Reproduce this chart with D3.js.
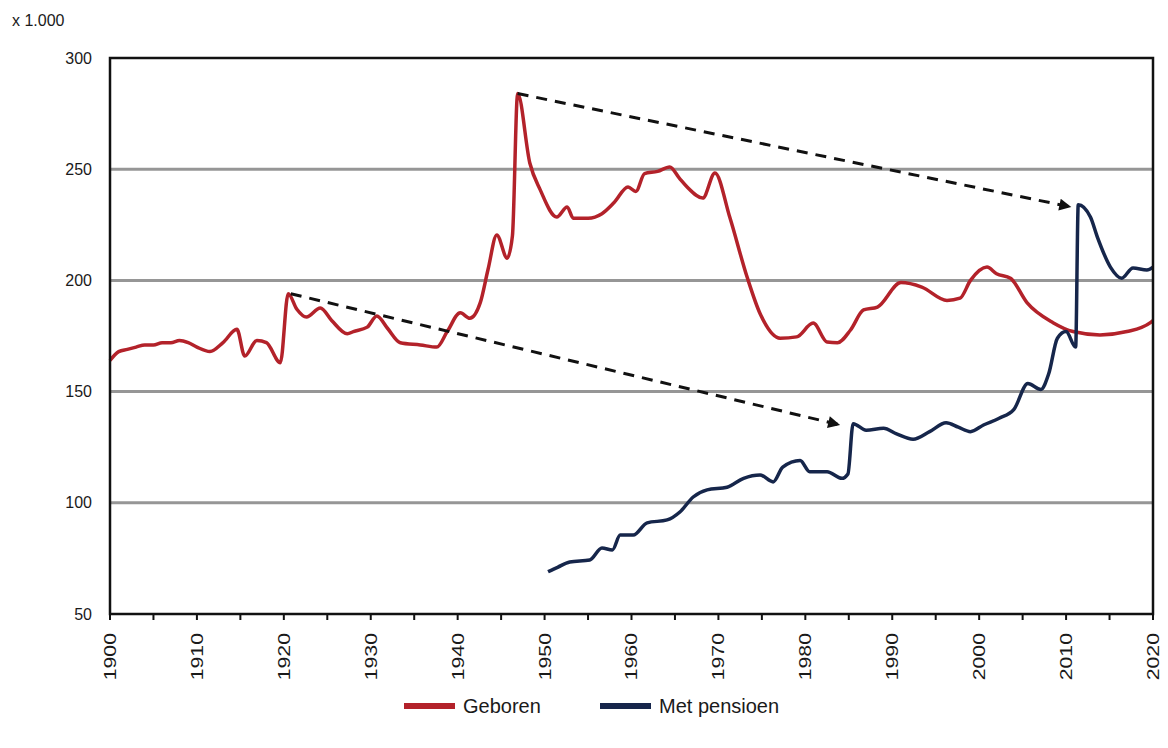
<!DOCTYPE html>
<html>
<head>
<meta charset="utf-8">
<script src="https://d3js.org/d3.v7.min.js"></script>
<style>
body { margin: 0; background: #fff; }
text { font-family: "Liberation Sans", Arial, sans-serif; fill: #1a1a1a; }
</style>
</head>
<body>
<script>

/* data (x 1.000) */

var geborenYears = [1900, 1901, 1902, 1903, 1904, 1905, 1906, 1907, 1908, 1909, 1910, 1911.5, 1913, 1914.6,
  1915.5, 1916.9, 1918, 1919.6, 1920.5, 1921.5, 1922.6, 1924.2, 1925.5, 1927.3, 1928, 1929.6, 1930.7,
  1931.9, 1933.4, 1935.7, 1937.6, 1938.8, 1940.3, 1941.4, 1942.6, 1943.5, 1944.5, 1945.7, 1946.3, 1946.9,
  1948.3, 1949.5, 1951.4, 1952.6, 1953.3, 1955, 1956.6, 1958, 1959.6, 1960.5, 1961.5, 1963, 1964.4, 1965.5,
  1966.4, 1968.2, 1969.6, 1971.3, 1973.3, 1974.8, 1977.1, 1979, 1980.9, 1982.5, 1983.7, 1985.2,
  1986.7, 1988.3, 1991, 1993.4, 1996.3, 1997.8, 1999, 2000.9, 2002, 2003.6, 2005.5, 2008.5, 2010.8, 2013.9,
  2017, 2019.7, 2020];
var geborenValues = [164, 168, 169, 170, 171, 171, 172, 172, 173, 172, 170, 168, 172, 178,
  166, 173, 172, 163, 194, 187, 183.5, 187.6, 182, 176, 177, 179, 184,
  178.6, 172, 171, 170, 177, 185.4, 183, 190, 205, 220.4, 210, 220, 284,
  252.8, 240.7, 228.5, 233, 228, 228, 230, 235, 242, 240, 248, 249, 251, 246,
  242, 237, 248.3, 228.5, 201.5, 185, 174, 174.6, 180.8, 172.3, 172, 177.7,
  186.7, 188, 199, 197, 191, 192, 200, 206, 203, 201, 190, 181, 177, 175.5,
  177, 181, 182];

var pensioenYears = [1950.4, 1951.5, 1952.9, 1955.2, 1956.6, 1957.8, 1958.7, 1960.2, 1961.8,
  1964.1, 1965.6, 1967.1, 1968.7, 1971, 1972.9, 1974.8, 1976.3, 1977.4, 1979.4, 1980.5, 1982.5, 1984.2,
  1984.9, 1985.5, 1987, 1989, 1990.5, 1992.4, 1994.3, 1996.2, 1997.6, 1999, 2000.5, 2002.3, 2004,
  2005.6, 2007.1, 2008, 2009, 2010, 2011.1, 2011.4, 2012.8, 2013.6, 2015.1, 2016.4, 2017.7, 2019.3, 2020];
var pensioenValues = [69, 71, 73.4, 74.3, 79.7, 78.8, 85.5, 85.5, 91,
  92.3, 96, 102.6, 105.8, 107, 111, 112.5, 109.4, 116, 119, 114, 114, 111,
  113, 135.6, 132.6, 133.5, 131, 128.6, 132, 136, 134, 132, 135, 138, 142,
  153.6, 151, 158, 174, 177, 170, 234, 228.5, 219.5, 206, 201, 205.6, 204.7, 206];

/* dashed arrows: start year/value -> end year/value */
var arrowFromYears = [1920.8, 1946.9];
var arrowFromValues = [194, 284];
var arrowToYears = [1984, 2010.6];
var arrowToValues = [135, 233];

var yTicks = [50, 100, 150, 200, 250, 300];
var gridValues = [100, 150, 200, 250];
var xLabelYears = [1900, 1910, 1920, 1930, 1940, 1950, 1960, 1970, 1980, 1990, 2000, 2010, 2020];
var xMinorYears = d3.range(1900, 2021, 5);

var seriesNames = ["Geboren", "Met pensioen"];
var seriesColors = ["#b3222a", "#16264b"];

/* setup */

var width = 1168, height = 748;
var pLeft = 110, pRight = 1153, pTop = 58, pBottom = 614;

var svg = d3.select("body").append("svg")
  .attr("width", width)
  .attr("height", height);

var x = d3.scaleLinear().domain([1900, 2020]).range([pLeft, pRight]);
var y = d3.scaleLinear().domain([50, 300]).range([pBottom, pTop]);

/* grid */
svg.append("g").selectAll("line")
  .data(gridValues)
  .enter().append("line")
  .attr("x1", pLeft).attr("x2", pRight)
  .attr("y1", function(d) { return y(d); })
  .attr("y2", function(d) { return y(d); })
  .attr("stroke", "#969696")
  .attr("stroke-width", 3);

/* lines */
var line = d3.line()
  .x(function(d) { return x(d[0]); })
  .y(function(d) { return y(d[1]); })
  .curve(d3.curveMonotoneX);

var geboren = d3.zip(geborenYears, geborenValues);
var pensioen = d3.zip(pensioenYears, pensioenValues);

svg.append("path")
  .datum(geboren)
  .attr("d", line)
  .attr("fill", "none")
  .attr("stroke", seriesColors[0])
  .attr("stroke-width", 3.5)
  .attr("stroke-linejoin", "round");

svg.append("path")
  .datum(pensioen)
  .attr("d", line)
  .attr("fill", "none")
  .attr("stroke", seriesColors[1])
  .attr("stroke-width", 3.5)
  .attr("stroke-linejoin", "round");

/* arrows */
svg.append("defs").append("marker")
  .attr("id", "head")
  .attr("viewBox", "0 0 10 10")
  .attr("refX", 10).attr("refY", 5)
  .attr("markerWidth", 5).attr("markerHeight", 4)
  .attr("markerUnits", "strokeWidth")
  .attr("orient", "auto")
  .append("path")
  .attr("d", "M0,0L10,5L0,10Z")
  .attr("fill", "#111");

svg.append("g").selectAll("line")
  .data(d3.range(arrowFromYears.length))
  .enter().append("line")
  .attr("x1", function(i) { return x(arrowFromYears[i]); })
  .attr("y1", function(i) { return y(arrowFromValues[i]); })
  .attr("x2", function(i) { return x(arrowToYears[i]); })
  .attr("y2", function(i) { return y(arrowToValues[i]); })
  .attr("stroke", "#111")
  .attr("stroke-width", 3)
  .attr("stroke-dasharray", "11,8")
  .attr("marker-end", "url(#head)");

/* frame */
svg.append("rect")
  .attr("x", pLeft).attr("y", pTop)
  .attr("width", pRight - pLeft).attr("height", pBottom - pTop)
  .attr("fill", "none")
  .attr("stroke", "#111")
  .attr("stroke-width", 2.5);

/* x ticks */
svg.append("g").selectAll("line")
  .data(xMinorYears)
  .enter().append("line")
  .attr("x1", function(d) { return x(d); })
  .attr("x2", function(d) { return x(d); })
  .attr("y1", pBottom).attr("y2", pBottom + 6)
  .attr("stroke", "#111")
  .attr("stroke-width", 2);

svg.append("g").selectAll("text")
  .data(xLabelYears)
  .enter().append("text")
  .attr("transform", function(d) { return "translate(" + x(d) + "," + (pBottom + 19) + ") rotate(-90) scale(1.25,1)"; })
  .attr("text-anchor", "end")
  .attr("dy", "0.35em")
  .style("font-size", "17px")
  .text(function(d) { return d; });

/* y labels */
svg.append("g").selectAll("text")
  .data(yTicks)
  .enter().append("text")
  .attr("x", pLeft - 18)
  .attr("y", function(d) { return y(d); })
  .attr("dy", "0.35em")
  .attr("text-anchor", "end")
  .style("font-size", "16px")
  .text(function(d) { return d; });

svg.append("text")
  .attr("x", 12).attr("y", 26)
  .style("font-size", "16px")
  .text("x 1.000");

/* legend */
var legendX = [404, 600];
var legend = svg.append("g").selectAll("g")
  .data(seriesNames)
  .enter().append("g")
  .attr("transform", function(d, i) { return "translate(" + legendX[i] + ",706)"; });

legend.append("line")
  .attr("x1", 0).attr("x2", 51)
  .attr("stroke", function(d, i) { return seriesColors[i]; })
  .attr("stroke-width", 6);

legend.append("text")
  .attr("x", 59)
  .attr("dy", "0.35em")
  .style("font-size", "20px")
  .text(function(d) { return d; });

</script>
</body>
</html>
